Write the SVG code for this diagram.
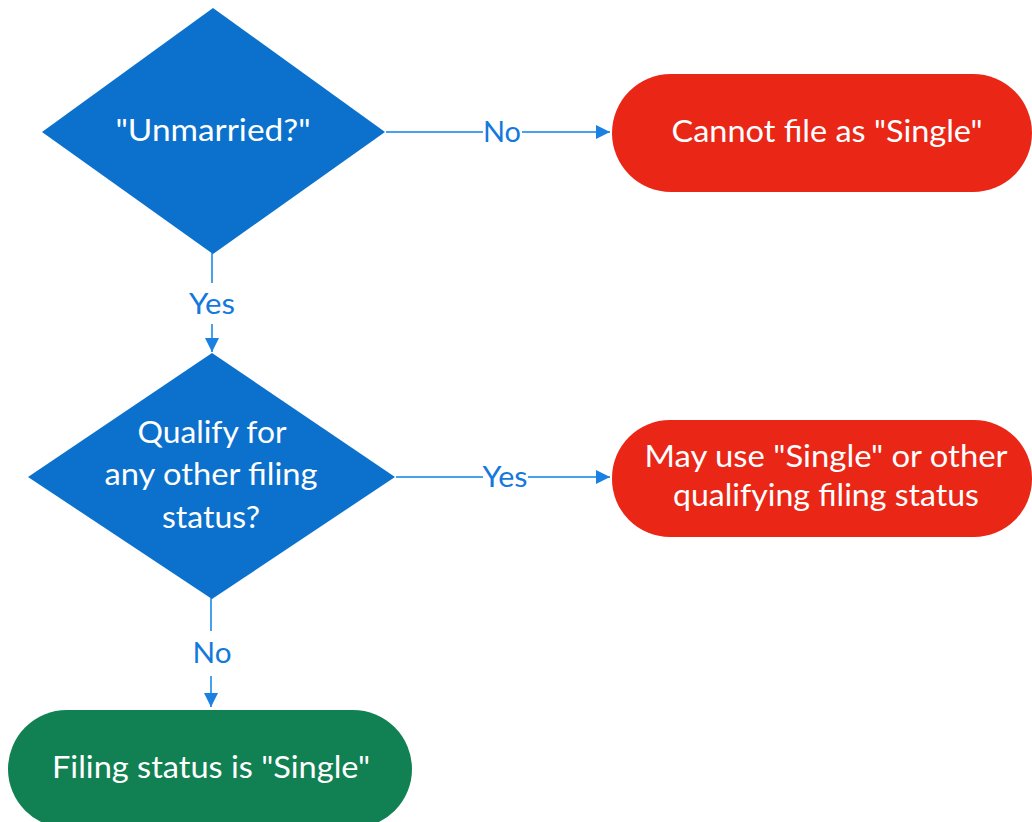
<svg xmlns="http://www.w3.org/2000/svg" width="1032" height="822" viewBox="0 0 1032 822">
  <style>
    .txt { font-family: Lato, "Open Sans", "Liberation Sans", sans-serif; fill: #ffffff; text-anchor: middle; font-size: 30px; }
    .lbl { font-family: Lato, "Open Sans", "Liberation Sans", sans-serif; fill: #1478dc; text-anchor: middle; font-size: 29px; }
    .decision { fill: #0b71cd; }
    .stop { fill: #ea2616; }
    .ok { fill: #118052; }
    .edge { stroke: #47a2ee; stroke-width: 2; fill: none; }
  </style>
  <defs>
    <marker id="arrow" viewBox="0 0 10 10" refX="10" refY="5" markerWidth="14" markerHeight="14" markerUnits="userSpaceOnUse" orient="auto">
      <path d="M0,0 L10,5 L0,10 Z" fill="#1a80e2"/>
    </marker>
  </defs>
  <rect width="1032" height="822" fill="#ffffff"/>

  <!-- connectors -->
  <g id="connectors">
    <!-- Unmarried? -> No -> Cannot file -->
    <line class="edge" x1="386" y1="132" x2="483" y2="132"/>
    <line class="edge" x1="522" y1="132" x2="610" y2="132" marker-end="url(#arrow)"/>
    <text class="lbl" x="502" y="142" textLength="38" lengthAdjust="spacingAndGlyphs">No</text>
    <!-- Unmarried? -> Yes -> Qualify -->
    <line class="edge" x1="212" y1="253" x2="212" y2="283"/>
    <line class="edge" x1="212" y1="324" x2="212" y2="352" marker-end="url(#arrow)"/>
    <text class="lbl" x="212" y="314" textLength="46" lengthAdjust="spacingAndGlyphs">Yes</text>
    <!-- Qualify -> Yes -> May use -->
    <line class="edge" x1="396" y1="477" x2="483" y2="477"/>
    <line class="edge" x1="528" y1="477" x2="610" y2="477" marker-end="url(#arrow)"/>
    <text class="lbl" x="505" y="487" textLength="45" lengthAdjust="spacingAndGlyphs">Yes</text>
    <!-- Qualify -> No -> Filing status -->
    <line class="edge" x1="211" y1="598" x2="211" y2="631"/>
    <line class="edge" x1="211" y1="676" x2="211" y2="707" marker-end="url(#arrow)"/>
    <text class="lbl" x="212" y="663" textLength="39" lengthAdjust="spacingAndGlyphs">No</text>
  </g>

  <g id="unmarried">
    <polygon class="decision" points="213,8 385,132 213,254 42,132"/>
    <text class="txt" x="213" y="141" textLength="195" lengthAdjust="spacingAndGlyphs">"Unmarried?"</text>
  </g>

  <g id="cannot-file">
    <rect class="stop" x="612" y="74" width="420" height="118" rx="59"/>
    <text class="txt" x="827" y="142" textLength="311" lengthAdjust="spacingAndGlyphs">Cannot file as "Single"</text>
  </g>

  <g id="qualify">
    <polygon class="decision" points="212,353 395,477 212,599 28,477"/>
    <text class="txt" x="212" y="443" textLength="149" lengthAdjust="spacingAndGlyphs">Qualify for</text>
    <text class="txt" x="211" y="485" textLength="213" lengthAdjust="spacingAndGlyphs">any other filing</text>
    <text class="txt" x="211" y="528" textLength="98" lengthAdjust="spacingAndGlyphs">status?</text>
  </g>

  <g id="may-use">
    <rect class="stop" x="612" y="420" width="420" height="117" rx="58"/>
    <text class="txt" x="826" y="467" textLength="363" lengthAdjust="spacingAndGlyphs">May use "Single" or other</text>
    <text class="txt" x="826" y="506" textLength="306" lengthAdjust="spacingAndGlyphs">qualifying filing status</text>
  </g>

  <g id="filing-single">
    <rect class="ok" x="8" y="710" width="404" height="118" rx="59"/>
    <text class="txt" x="211" y="778" textLength="318" lengthAdjust="spacingAndGlyphs">Filing status is "Single"</text>
  </g>
</svg>
